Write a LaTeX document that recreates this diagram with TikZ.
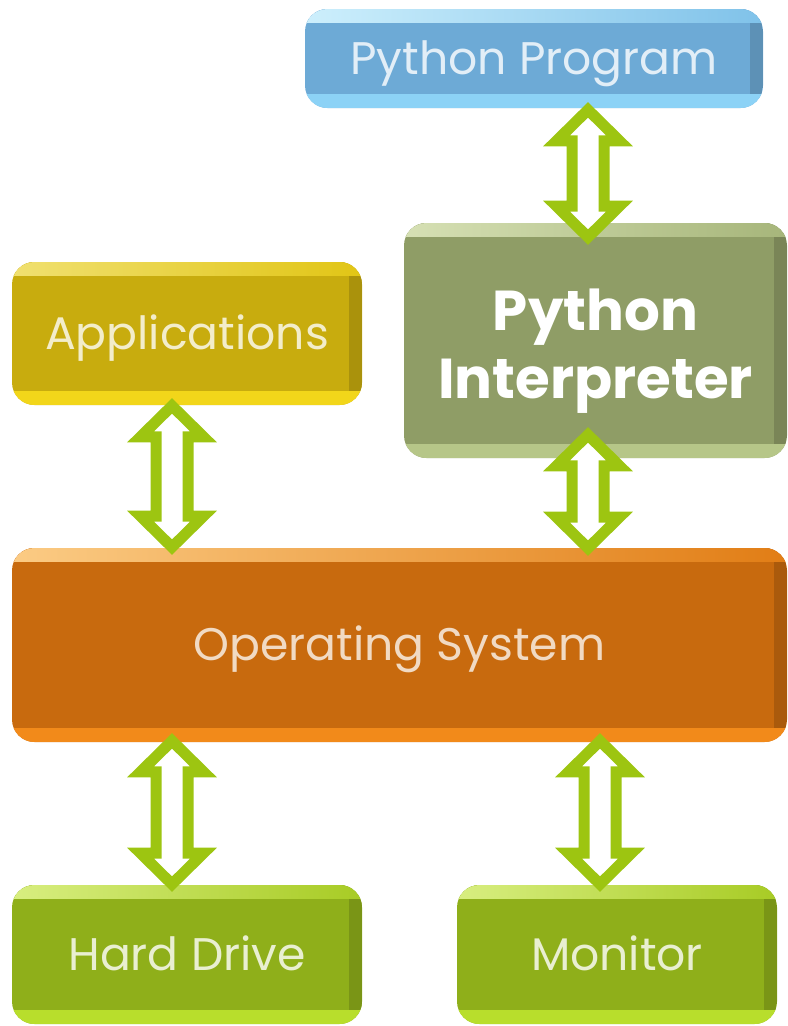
\documentclass[tikz,border=0pt]{standalone}
\usepackage{fontspec}
\setmainfont{Poppins}
\usepackage{tikz}
\usetikzlibrary{calc}

\definecolor{progmain}{HTML}{6DAAD6}
\definecolor{proghl}{HTML}{CDEFFC}
\definecolor{progband}{HTML}{8CD2F6}
\definecolor{appmain}{HTML}{C8AC0E}
\definecolor{apphl}{HTML}{F0E070}
\definecolor{appband}{HTML}{F2D61A}
\definecolor{intmain}{HTML}{8F9D66}
\definecolor{inthl}{HTML}{D6E0B4}
\definecolor{intband}{HTML}{B6C688}
\definecolor{osmain}{HTML}{C86A0E}
\definecolor{oshl}{HTML}{FBCB84}
\definecolor{osband}{HTML}{F28A1A}
\definecolor{hwmain}{HTML}{8FAF1A}
\definecolor{hwhl}{HTML}{D8EE80}
\definecolor{hwband}{HTML}{B8DE2C}
\definecolor{linkgreen}{HTML}{9DC511}

\begin{document}
\begin{tikzpicture}[
    box/.style n args={4}{rounded corners=0.45cm, fill=#1, text=#4, inner sep=0pt, align=center,
        font=\fontsize{26}{31}\selectfont, text height=0.72cm, text depth=0.1cm,
        path picture={
            \fill[sharp corners, left color=#2, right color=#3!60!#1] (path picture bounding box.north west) rectangle ([yshift=-0.27cm]path picture bounding box.north east);
            \fill[sharp corners, #3] ([yshift=0.28cm]path picture bounding box.south west) rectangle (path picture bounding box.south east);
            \fill[sharp corners, #1!85!black] ([xshift=-0.26cm,yshift=-0.27cm]path picture bounding box.north east) rectangle ([yshift=0.28cm]path picture bounding box.south east);
        }},
    progbox/.style={box={progmain}{proghl}{progband}{white!80!progmain}},
    appbox/.style={box={appmain}{apphl}{appband}{white!78!appmain}},
    intbox/.style={box={intmain}{inthl}{intband}{white}},
    osbox/.style={box={osmain}{oshl}{osband}{white!75!osmain}},
    hwbox/.style={box={hwmain}{hwhl}{hwband}{white!80!hwmain}},
    link/.style={draw=linkgreen, fill=white, line width=0.22cm,
        to path={let \p1=(\tikztostart), \p2=(\tikztotarget) in
            (\x1,\y1-0.15cm) -- (\x1+0.63cm,\y1-0.77cm) -- (\x1+0.32cm,\y1-0.77cm)
            -- (\x1+0.32cm,\y2+0.77cm) -- (\x1+0.63cm,\y2+0.77cm) -- (\x1,\y2+0.15cm)
            -- (\x1-0.63cm,\y2+0.77cm) -- (\x1-0.32cm,\y2+0.77cm) -- (\x1-0.32cm,\y1-0.77cm)
            -- (\x1-0.63cm,\y1-0.77cm) -- cycle}}
]
    \useasboundingbox (0,0) rectangle (15.76,-20.52);

    \node[progbox, minimum width=9.16cm, minimum height=1.98cm] (prog) at (10.68,-1.17) {Python Program};
    \node[appbox, minimum width=7cm, minimum height=2.86cm] (apps) at (3.74,-6.67) {Applications};
    \node[intbox, minimum width=7.66cm, minimum height=4.7cm, font=\fontsize{32}{38.6}\selectfont\bfseries,
        text height=2.4cm, text depth=0.1cm] (interp) at (11.91,-6.81) {Python\\Interpreter};
    \node[osbox, minimum width=15.5cm, minimum height=3.88cm] (os) at (7.99,-12.9) {Operating System};
    \node[hwbox, minimum width=7cm, minimum height=2.78cm] (hd) at (3.74,-19.09) {Hard Drive};
    \node[hwbox, minimum width=6.4cm, minimum height=2.78cm] (mon) at (12.34,-19.09) {Monitor};

    \path[link] ($(prog.south -| interp.north)+(-0.15,0.12)$) to ($(interp.north)+(-0.15,-0.44)$);
    \path[link] ($(apps.south)+(-0.3,0.14)$) to ($(os.north -| apps.south)+(-0.3,-0.14)$);
    \path[link] ($(interp.south)+(-0.15,0.62)$) to ($(os.north -| interp.south)+(-0.15,-0.16)$);
    \path[link] ($(os.south -| hd.north)+(-0.3,0.18)$) to ($(hd.north)+(-0.3,-0.14)$);
    \path[link] ($(os.south -| mon.north)+(-0.34,0.18)$) to ($(mon.north)+(-0.34,-0.14)$);
\end{tikzpicture}
\end{document}
